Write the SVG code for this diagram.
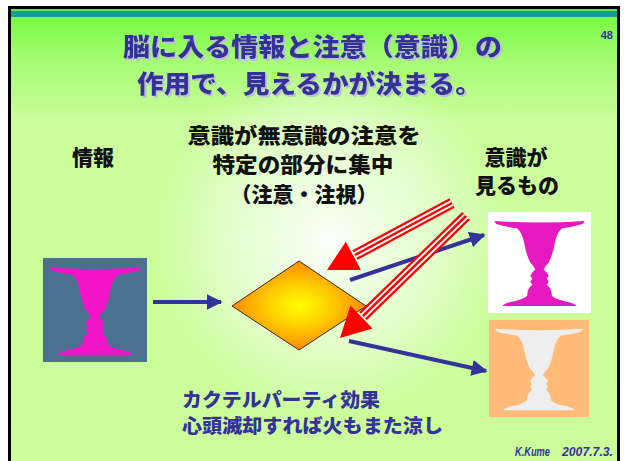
<svg xmlns="http://www.w3.org/2000/svg" xmlns:xlink="http://www.w3.org/1999/xlink" width="627" height="461" viewBox="0 0 627 461">
  <defs>
    <linearGradient id="bgLinear" x1="0" y1="0" x2="0" y2="1" gradientUnits="objectBoundingBox">
      <stop offset="0" stop-color="#70fa3c"/>
      <stop offset="0.12" stop-color="#a6fc74"/>
      <stop offset="0.25" stop-color="#cbfd9c"/>
      <stop offset="1" stop-color="#ccfd9a"/>
    </linearGradient>
    <radialGradient id="bgGlow" cx="330" cy="240" r="175" gradientUnits="userSpaceOnUse">
      <stop offset="0" stop-color="#ffffff" stop-opacity="0.95"/>
      <stop offset="0.5" stop-color="#f4fff0" stop-opacity="0.65"/>
      <stop offset="1" stop-color="#ffffff" stop-opacity="0"/>
    </radialGradient>
    <radialGradient id="diamondFill" cx="0.5" cy="0.5" r="0.5">
      <stop offset="0" stop-color="#ffff00"/>
      <stop offset="0.45" stop-color="#ffd000"/>
      <stop offset="1" stop-color="#ff8a00"/>
    </radialGradient>
    <filter id="titleShadow" x="-5%" y="-20%" width="110%" height="150%">
      <feOffset in="SourceAlpha" dx="2" dy="2" result="off"/>
      <feFlood flood-color="#bfbfd6"/>
      <feComposite in2="off" operator="in" result="shadow"/>
      <feMerge>
        <feMergeNode in="shadow"/>
        <feMergeNode in="SourceGraphic"/>
      </feMerge>
    </filter>
    <!-- Rubin's vase silhouette in a 100x100 box -->
    <path id="vase" d="M6,9 Q50,12 94,9 L92,12 Q82,15 72,16 Q67,20 65,30 Q63,42 59,50 Q55,54 54,57 L57,60 L59,63 L57,66 L59,69 L57,72 L60,75 Q62,78 62,83 Q66,87 78,89 Q85,91 86,93 L14,93 Q15,91 22,89 Q34,87 38,83 Q38,78 40,75 L43,72 L41,69 L43,66 L41,63 L43,60 L46,57 Q45,54 41,50 Q37,42 35,30 Q33,20 28,16 Q18,15 8,12 Z"/>
    <marker id="blueHead" viewBox="0 0 10 10" refX="9" refY="5" markerWidth="4" markerHeight="4" orient="auto" markerUnits="strokeWidth">
      <path d="M0,0 L10,5 L0,10 Z" fill="#333399"/>
    </marker>
    <style>
      .title { font-family: "Noto Sans CJK JP", "Noto Sans", sans-serif; font-weight: 900; font-size: 25px; fill: #333399; }
      .label { font-family: "Noto Sans CJK JP", "Noto Sans", sans-serif; font-weight: 900; font-size: 21px; fill: #111111; text-anchor: middle; }
      .note { font-family: "Noto Sans CJK JP", "Noto Sans", sans-serif; font-weight: 900; font-size: 19px; fill: #333399; }
      .sign { font-family: "Liberation Sans", Arial, sans-serif; font-weight: bold; font-style: italic; font-size: 12px; fill: #333399; }
      .blue { stroke: #333399; stroke-width: 4; fill: none; marker-end: url(#blueHead); }
      .redOuter { stroke: #ff0000; stroke-width: 11; fill: none; }
      .redGap { stroke: #ffffff; stroke-width: 6.5; fill: none; }
      .redInner { stroke: #ff0000; stroke-width: 2.5; fill: none; }
      .redHead { fill: #ff0000; }
    </style>
  </defs>

  <!-- page -->
  <rect x="0" y="0" width="627" height="461" fill="#ffffff"/>
  <rect x="10" y="8" width="608" height="453" fill="url(#bgLinear)"/>
  <rect x="10" y="8" width="608" height="453" fill="url(#bgGlow)"/>
  <rect x="10" y="9" width="608" height="2" fill="#66e04a"/>
  <rect x="10" y="11" width="608" height="6" fill="#14a090"/>
  <rect x="8" y="6" width="612" height="3" fill="#000000"/>
  <rect x="8" y="6" width="3" height="455" fill="#000000"/>
  <rect x="617" y="6" width="3" height="455" fill="#000000"/>

  <!-- title -->
  <g id="title" filter="url(#titleShadow)">
    <text class="title" x="123" y="56" textLength="379" lengthAdjust="spacingAndGlyphs">脳に入る情報と注意（意識）の</text>
    <text class="title" x="137" y="93" textLength="345" lengthAdjust="spacingAndGlyphs">作用で、見えるかが決まる。</text>
  </g>
  <text x="613" y="39" text-anchor="end" font-family="Liberation Sans, Arial, sans-serif" font-weight="bold" font-size="11" fill="#333399">48</text>

  <!-- labels -->
  <g id="label-info">
    <text class="label" x="93" y="165">情報</text>
  </g>
  <g id="label-focus">
    <text class="label" x="304" y="143" textLength="233" lengthAdjust="spacingAndGlyphs">意識が無意識の注意を</text>
    <text class="label" x="303" y="172" textLength="181" lengthAdjust="spacingAndGlyphs">特定の部分に集中</text>
    <text class="label" x="304" y="202">（注意・注視）</text>
  </g>
  <g id="label-seen">
    <text class="label" x="516" y="165">意識が</text>
    <text class="label" x="517" y="193">見るもの</text>
  </g>

  <!-- input picture -->
  <g id="node-input">
    <rect x="43" y="258" width="104" height="104" fill="#4b7191"/>
    <use xlink:href="#vase" href="#vase" transform="translate(43,258) scale(1.04)" fill="#f414c8"/>
  </g>

  <!-- attention filter -->
  <g id="node-filter">
    <polygon points="232,306 299,261 366,306 299,350" fill="url(#diamondFill)" stroke="#3a2a10" stroke-width="1"/>
  </g>

  <!-- perceived: vase -->
  <g id="node-vase">
    <rect x="488" y="212" width="103" height="101" fill="#ffffff"/>
    <use xlink:href="#vase" href="#vase" transform="translate(488,212) scale(1.03,1.01)" fill="#e619c0"/>
  </g>

  <!-- perceived: faces -->
  <g id="node-faces">
    <rect x="489" y="320" width="100" height="97" fill="#ffbb77"/>
    <use xlink:href="#vase" href="#vase" transform="translate(489,320) scale(1,0.97)" fill="#eeeeee"/>
  </g>

  <!-- connectors -->
  <g id="connectors">
    <line class="blue" x1="153" y1="302" x2="221" y2="302"/>
    <line class="blue" x1="350" y1="280" x2="484" y2="235"/>
    <line class="blue" x1="349" y1="341" x2="486" y2="371"/>

    <line class="redOuter" x1="452" y1="203" x2="355" y2="255"/>
    <line class="redGap" x1="452" y1="203" x2="355" y2="255"/>
    <line class="redInner" x1="452" y1="203" x2="355" y2="255"/>
    <polygon class="redHead" points="327,270 345.8,241.7 361,270"/>

    <line class="redOuter" x1="466" y1="216" x2="363" y2="316"/>
    <line class="redGap" x1="466" y1="216" x2="363" y2="316"/>
    <line class="redInner" x1="466" y1="216" x2="363" y2="316"/>
    <polygon class="redHead" points="340,338 350.4,305.6 372.6,328.6"/>
  </g>

  <!-- notes -->
  <g id="note">
    <text class="note" x="182" y="407" textLength="198" lengthAdjust="spacingAndGlyphs">カクテルパーティ効果</text>
    <text class="note" x="182" y="433" textLength="261" lengthAdjust="spacingAndGlyphs">心頭滅却すれば火もまた涼し</text>
  </g>
  <text class="sign" x="515" y="456" font-size="11" textLength="35" lengthAdjust="spacingAndGlyphs">K.Kume</text>
  <text class="sign" x="562" y="456" font-size="13" textLength="51" lengthAdjust="spacingAndGlyphs">2007.7.3.</text>
</svg>
